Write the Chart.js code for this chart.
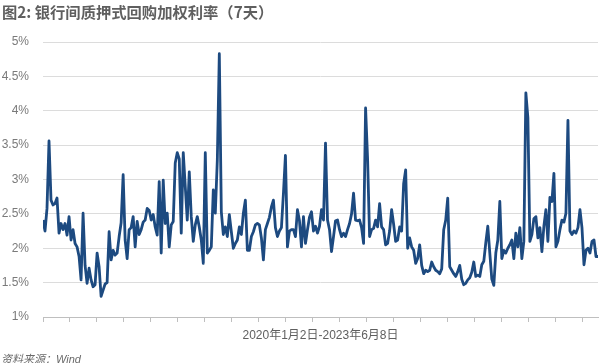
<!DOCTYPE html>
<html>
<head>
<meta charset="utf-8">
<script src="https://cdn.jsdelivr.net/npm/chart.js@4.4.0/dist/chart.umd.min.js"></script>
<style>
    body { margin: 0; background: #fff; }
    .wrap { position: relative; width: 600px; height: 363px; }
    .wrap canvas { position: absolute; left: 0; top: 0; }
    .chart_title {
        position: absolute; left: 2px; top: 0px; line-height: 17px;
        font: bold 15.3px 'Noto Sans CJK SC', sans-serif; color: #5f5f5f;
    }
    .chart_source {
        position: absolute; left: 1px; top: 350px; line-height: 14px;
        font: italic 11px 'Liberation Sans', 'Noto Sans CJK SC', sans-serif; color: #6a6a6a;
    }
</style>
</head>
<body>
<div class="wrap">
    <canvas id="repoLine" width="600" height="363"></canvas>
    <div class="chart_title">图2: 银行间质押式回购加权利率（7天）</div>
    <div class="chart_source">资料来源：Wind</div>
</div>
<script>
// 银行间质押式回购加权利率(7天), 2020-01-02 ~ 2023-06-08 (%)
const periodLabel = '2020年1月2日-2023年6月8日'
const yTicks = [1, 1.5, 2, 2.5, 3, 3.5, 4, 4.5, 5]

const rate2020 = [
    2.41, 2.25, 2.58, 3.56, 2.70, 2.63, 2.65, 2.73, 2.22, 2.36,
    2.27, 2.36, 2.19, 2.46, 2.12, 2.27, 2.07, 2.02, 1.88, 1.54,
    2.51, 1.75, 1.49, 1.71, 1.54, 1.44, 1.47, 1.93, 1.73, 1.30,
    1.39, 1.48, 1.50, 2.24, 1.83, 1.97, 1.90, 1.93, 2.17, 2.37,
    3.07, 2.12, 1.85, 2.27, 2.30, 2.46, 2.02, 2.39, 2.20, 2.27,
    2.38, 2.41, 2.58, 2.55, 2.41, 2.49, 2.31, 2.19, 2.97, 1.93,
    2.99, 2.36, 2.51, 2.02, 2.34, 2.39, 3.24, 3.39, 3.30, 2.22,
    3.39, 2.90, 2.41, 3.11, 2.46, 2.10, 2.34, 2.46, 2.31, 2.12
]
const rate2021 = [
    1.78, 3.39, 1.93, 1.97, 2.02, 2.85, 2.51, 3.28, 4.83, 2.53,
    2.20, 2.31, 2.17, 2.49, 2.24, 2.00, 2.07, 2.12, 2.31, 2.20,
    2.51, 2.70, 1.97, 1.97, 2.17, 2.24, 2.34, 2.36, 2.34, 2.15,
    1.83, 2.27, 2.36, 2.45, 2.60, 2.70, 2.30, 2.17, 2.25, 2.30,
    2.80, 3.35, 2.02, 2.25, 2.27, 2.27, 2.17, 2.56, 2.40, 2.02,
    2.46, 2.07, 2.27, 2.45, 2.53, 2.25, 2.32, 2.22, 2.32, 2.56,
    2.41, 3.53, 2.41, 2.27, 1.95, 2.17, 2.40, 2.41, 2.27, 2.17,
    2.22, 2.17, 2.27, 2.36, 2.50, 2.80, 2.41, 2.40, 2.41, 2.30,
    2.07, 4.04, 3.30, 2.17, 2.27
]
const rate2022 = [
    2.29, 2.41, 2.31, 2.65, 2.31, 2.27, 2.05, 2.07, 2.25, 2.56,
    2.35, 2.10, 2.12, 2.31, 2.25, 2.94, 3.14, 2.00, 2.15, 2.02,
    1.97, 1.78, 1.85, 2.05, 1.75, 1.63, 1.68, 1.66, 1.68, 1.80,
    1.73, 1.68, 1.66, 1.63, 1.70, 2.27, 2.41, 2.73, 1.73, 1.68,
    1.63, 1.59, 1.66, 1.75, 1.55, 1.47, 1.49, 1.54, 1.57, 1.65,
    1.80, 1.59, 1.61, 1.59, 1.76, 1.81, 2.08, 2.32, 1.93, 1.55,
    1.46, 1.93, 2.12, 2.68, 1.85, 1.97, 1.93, 2.00, 2.05, 2.12
]
const rate2023 = [
    1.85, 2.22, 2.02, 2.30, 1.85, 2.10, 4.26, 3.90, 2.10, 2.20,
    2.43, 2.46, 2.15, 2.30, 1.95, 2.32, 2.56, 2.10, 2.74, 2.68,
    3.09, 2.02, 2.10, 2.27, 2.41, 2.38, 2.51, 3.86, 2.25, 2.20,
    2.25, 2.22, 2.30, 2.56, 2.30, 1.76, 1.97, 2.00, 1.93, 2.10,
    2.12, 1.88, 1.88
]

const rateValues = [...rate2020, ...rate2021, ...rate2022, ...rate2023]
const tickCount = 21

let lineCtx = document.getElementById('repoLine').getContext('2d')

let repoChart = new Chart(lineCtx, {
    type: 'line',
    data: {
        datasets: [{
            data: rateValues.map((v, i) => ({ x: i, y: v })),
            borderColor: '#1d4a80',
            borderWidth: 2.8,
            borderJoinStyle: 'round',
            pointRadius: 0,
            tension: 0,
            fill: false
        }]
    },
    options: {
        responsive: false,
        animation: false,
        layout: { padding: { top: 42, right: 2, left: 0, bottom: 0 } },
        plugins: {
            legend: { display: false },
            tooltip: { enabled: false }
        },
        scales: {
            x: {
                type: 'linear',
                min: 0,
                max: rateValues.length - 1,
                afterBuildTicks: (scale) => {
                    // tick marks spaced evenly along the axis, as in the original
                    let step = (rateValues.length - 1) * 0.9712 / (tickCount - 1)
                    scale.ticks = Array.from({ length: tickCount }, (_, k) => ({ value: k * step }))
                },
                afterFit: (scale) => { scale.height = 46 },
                ticks: { display: false },
                grid: {
                    drawOnChartArea: false,
                    drawTicks: true,
                    tickLength: 5,
                    color: '#bfbfbf'
                },
                border: { display: true, color: '#bfbfbf', width: 1 },
                title: {
                    display: true,
                    text: periodLabel,
                    color: '#5f5f5f',
                    font: { size: 12, family: "'Liberation Sans', 'Noto Sans CJK SC', sans-serif" },
                    padding: { top: 0, bottom: 20 }
                }
            },
            y: {
                min: 1,
                max: 5,
                afterBuildTicks: (scale) => {
                    scale.ticks = yTicks.map(v => ({ value: v }))
                },
                afterFit: (scale) => { scale.width = 43 },
                ticks: {
                    padding: 14,
                    color: '#7a7a7a',
                    font: { size: 12, family: "'Liberation Sans', sans-serif" },
                    callback: (v) => v + '%'
                },
                grid: { color: '#dcdcdc', drawTicks: false },
                border: { display: false }
            }
        }
    }
})
</script>
</body>
</html>
